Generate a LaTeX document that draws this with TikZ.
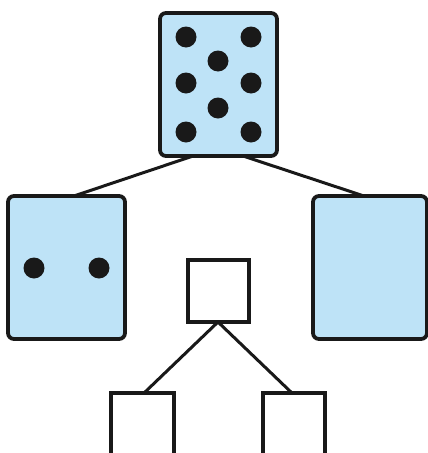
\documentclass[tikz,border=0pt]{standalone}
\begin{document}
\begin{tikzpicture}[x=1pt,y=-1pt,
  blk/.style={draw=black!90,line width=3.8pt,fill=boxblue,rounded corners=6pt},
  sq/.style={draw=black!90,line width=3.8pt,fill=white},
  dot/.style={fill=black!90,circle,minimum size=21pt,inner sep=0pt},
  link/.style={draw=black!90,line width=3pt}]
\definecolor{boxblue}{RGB}{190,227,247}
\useasboundingbox (0,0) rectangle (428,453);
\begin{scope}
\clip (0,0) rectangle (428,453);
% connectors
\coordinate (tl) at (193,156);
\coordinate (tr) at (243,156);
\coordinate (lt) at (71,197);
\coordinate (rt) at (367,197);
\draw[link] (tl) -- (lt);
\draw[link] (tr) -- (rt);
\coordinate (mb) at (218,322);
\coordinate (bl) at (143,394);
\coordinate (br) at (293,394);
\draw[link] (mb) -- (bl);
\draw[link] (mb) -- (br);
% boxes
\node[blk,minimum width=117pt,minimum height=143pt,inner sep=0pt] (top) at (218.5,84.5) {};
\node[blk,minimum width=117pt,minimum height=143pt,inner sep=0pt] (left) at (66.5,267.5) {};
\node[blk,minimum width=114pt,minimum height=143pt,inner sep=0pt] (right) at (370,267.5) {};
\node[sq,minimum width=61pt,minimum height=62pt,inner sep=0pt] (mid) at (218.5,291) {};
\node[sq,minimum width=63pt,minimum height=80pt,inner sep=0pt] (b1) at (142.5,433) {};
\node[sq,minimum width=62pt,minimum height=80pt,inner sep=0pt] (b2) at (294,433) {};
% dots
\node[dot] (d1) at (186,37) {};
\node[dot] (d2) at (251,37) {};
\node[dot] (d3) at (218,61) {};
\node[dot] (d4) at (186,83) {};
\node[dot] (d5) at (251,83) {};
\node[dot] (d6) at (218,108) {};
\node[dot] (d7) at (186,132) {};
\node[dot] (d8) at (251,132) {};
\node[dot] (l1) at (34,268) {};
\node[dot] (l2) at (99,268) {};
\end{scope}
\end{tikzpicture}
\end{document}
